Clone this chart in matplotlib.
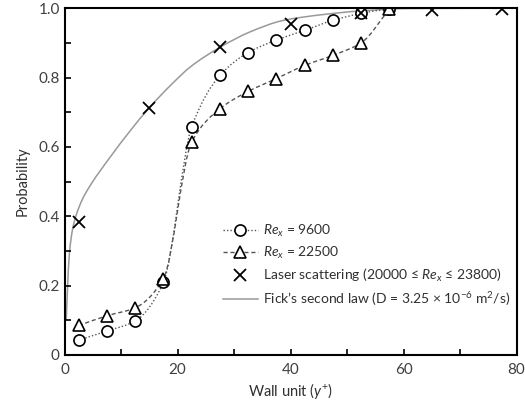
import matplotlib
matplotlib.use("Agg")
import matplotlib.pyplot as plt
from matplotlib.path import Path
from matplotlib.patches import PathPatch
from matplotlib.lines import Line2D
from matplotlib.ticker import MultipleLocator
import numpy as np

plt.rcParams['font.family'] = ['Lato', 'DejaVu Sans']
plt.rcParams['mathtext.fontset'] = 'custom'
plt.rcParams['mathtext.rm'] = 'Lato'
plt.rcParams['mathtext.it'] = 'Lato:italic'

# probability vs wall unit
y_plus = [2.5, 7.5, 12.5, 17.5, 22.5, 27.5, 32.5, 37.5, 42.5, 47.5, 52.5, 57.5]
p_9600 = [0.043, 0.069, 0.098, 0.209, 0.657, 0.806, 0.872, 0.908, 0.936, 0.965, 0.985, 0.999]
p_22500 = [0.085, 0.113, 0.136, 0.220, 0.614, 0.710, 0.760, 0.797, 0.835, 0.864, 0.900, 0.997]

laser_y = [2.5, 15.0, 27.5, 40.0, 52.5, 65.0, 77.5]
laser_p = [0.382, 0.713, 0.888, 0.954, 0.985, 0.994, 0.999]

fick_y = [0.3, 0.5, 0.85, 1.4, 2.0, 3.2, 4.6, 8.1, 11.7, 14.9, 18.8, 22.3, 27.6, 32.9,
          38.8, 46.0, 52.3, 61.2, 80.0]
fick_p = [0.10, 0.18, 0.29, 0.36, 0.40, 0.45, 0.49, 0.571, 0.648, 0.711, 0.778, 0.831,
          0.888, 0.932, 0.965, 0.982, 0.992, 0.999, 1.0]

labels = [r"$Re_x$ = 9600", r"$Re_x$ = 22500",
          r"Laser scattering (20000 ≤ $Re_x$ ≤ 23800)",
          r"Fick’s second law (D = 3.25 × 10$^{-6}$ m$^2$/s)"]


def smooth_path(xs, ys):
    # monotone cubic Hermite through the points, drawn as Bezier segments
    x = np.asarray(xs, float)
    y = np.asarray(ys, float)
    h = np.diff(x)
    d = np.diff(y) / h
    m = np.empty_like(y)
    m[0], m[-1] = d[0], d[-1]
    for k in range(1, len(x) - 1):
        if d[k - 1] * d[k] <= 0:
            m[k] = 0.0
        else:
            w1 = 2 * h[k] + h[k - 1]
            w2 = h[k] + 2 * h[k - 1]
            m[k] = (w1 + w2) / (w1 / d[k - 1] + w2 / d[k])
    verts = [(x[0], y[0])]
    codes = [Path.MOVETO]
    for k in range(len(h)):
        verts += [(x[k] + h[k] / 3, y[k] + m[k] * h[k] / 3),
                  (x[k + 1] - h[k] / 3, y[k + 1] - m[k + 1] * h[k] / 3),
                  (x[k + 1], y[k + 1])]
        codes += [Path.CURVE4] * 3
    return Path(verts, codes)


fig = plt.figure(figsize=(5.25, 4.08), dpi=100)
ax = fig.add_axes([0.1229, 0.130, 0.861, 0.850])

line_col = "#555555"
ax.add_patch(PathPatch(smooth_path(fick_y, fick_p), fc="none", ec="#999999", lw=1.1))
ax.add_patch(PathPatch(smooth_path(y_plus, p_9600), fc="none", ec=line_col, lw=1.0, ls=(0, (1, 1.5))))
ax.add_patch(PathPatch(smooth_path(y_plus, p_22500), fc="none", ec=line_col, lw=1.0, ls=(0, (3, 2))))

ax.plot(y_plus, p_9600, ls="none", marker="o", ms=8, mfc="white", mec="black", mew=1.2)
ax.plot(y_plus, p_22500, ls="none", marker="^", ms=8.5, mfc="white", mec="black", mew=1.2)
ax.plot(laser_y, laser_p, ls="none", marker="x", ms=9, mec="black", mew=1.3)

ax.set_xlim(0, 80)
ax.set_ylim(0, 1.0)
ax.xaxis.set_major_locator(MultipleLocator(20))
ax.xaxis.set_minor_locator(MultipleLocator(10))
ax.yaxis.set_minor_locator(MultipleLocator(0.1))
ax.set_yticks([0, 0.2, 0.4, 0.6, 0.8, 1.0])
ax.set_yticklabels(["0", "0.2", "0.4", "0.6", "0.8", "1.0"])
ax.tick_params(which="both", direction="in", length=4, width=1.2, colors="black",
               labelcolor="#404040", labelsize=11, top=False, right=False)
ax.tick_params(axis="x", pad=6)
for s in ax.spines.values():
    s.set_linewidth(1.5)

ax.set_xlabel(r"Wall unit ($y^{+}$)", fontsize=10.5, color="#303030", labelpad=3)
ax.set_ylabel("Probability", fontsize=10.5, color="#303030", labelpad=6)

handles = [
    Line2D([], [], color=line_col, lw=1.0, ls=(0, (1, 1.5)), marker="o", ms=8,
           mfc="white", mec="black", mew=1.2),
    Line2D([], [], color=line_col, lw=1.0, ls=(0, (3, 2)), marker="^", ms=8.5,
           mfc="white", mec="black", mew=1.2),
    Line2D([], [], ls="none", marker="x", ms=9, mec="black", mew=1.3),
    Line2D([], [], color="#999999", lw=1.1),
]
leg = ax.legend(handles, labels, loc="upper right", bbox_to_anchor=(1.005, 0.405),
                frameon=False, fontsize=10, handlelength=2.5, handletextpad=0.4,
                labelspacing=0.42, borderaxespad=0.2)
for t in leg.get_texts():
    t.set_color("#303030")

fig.savefig("out.png", dpi=100)
